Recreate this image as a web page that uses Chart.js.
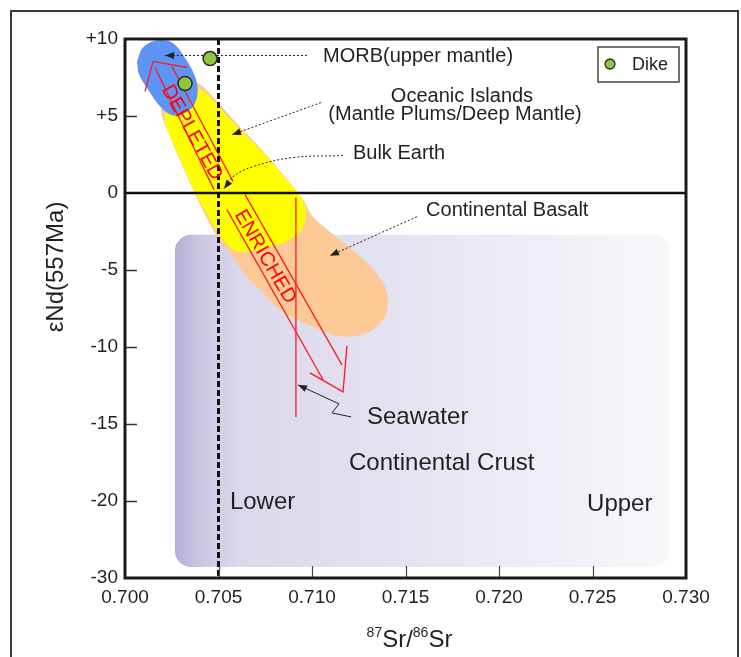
<!DOCTYPE html>
<html>
<head>
<meta charset="utf-8">
<script src="https://cdn.jsdelivr.net/npm/chart.js@4.4.0/dist/chart.umd.min.js"></script>
<style>
  html, body { margin: 0; padding: 0; background: #fff; }
  #wrap { width: 741px; height: 657px; position: relative; }
</style>
</head>
<body>
<div id="wrap"><canvas id="myChart"></canvas></div>
<script>
// --- data (x = 87Sr/86Sr, y = eNd) ---
const dikeLabel = 'Dike';
const dikeSr = [0.70455, 0.70321];
const dikeNd = [8.73, 7.11];

const xTickValues = [0.700, 0.705, 0.710, 0.715, 0.720, 0.725, 0.730];
const xTickLabels = ['0.700', '0.705', '0.710', '0.715', '0.720', '0.725', '0.730'];
const yTickValues = [10, 5, 0, -5, -10, -15, -20, -25];
const yTickLabels = ['+10', '+5', '0', '-5', '-10', '-15', '-20', '-30'];

// field outlines
const morbField = [[0.70064,8.54],[0.70096,9.45],[0.70166,9.90],[0.70251,9.77],[0.70326,8.67],[0.70380,7.37],
  [0.70385,6.20],[0.70342,5.35],[0.70262,5.03],[0.70193,5.55],[0.70123,6.72],[0.70075,7.69],[0.70064,8.54]];
const oibField = [[0.70230,5.74],[0.70321,6.52],[0.70401,6.72],[0.70481,5.87],[0.70578,4.57],[0.70668,3.47],
  [0.70759,2.36],[0.70856,0.99],[0.70947,-0.43],[0.70968,-1.41],[0.70936,-2.51],[0.70856,-3.16],[0.70733,-3.62],
  [0.70615,-3.81],[0.70551,-3.42],[0.70471,-2.06],[0.70401,-0.56],[0.70337,0.99],[0.70273,2.82],[0.70214,4.64],[0.70230,5.74]];
const basaltField = [[0.70214,6.07],[0.70294,7.04],[0.70374,7.24],[0.70444,6.59],[0.70588,4.64],[0.70765,2.36],
  [0.70952,-0.43],[0.71005,-1.54],[0.71150,-3.03],[0.71294,-4.53],[0.71380,-5.83],[0.71406,-6.93],[0.71390,-8.04],
  [0.71326,-8.88],[0.71241,-9.27],[0.71134,-9.27],[0.71043,-8.88],[0.70920,-8.23],[0.70829,-7.58],[0.70738,-6.48],
  [0.70652,-5.44],[0.70578,-4.20],[0.70497,-2.90],[0.70428,-1.41],[0.70364,0.22],[0.70299,1.97],[0.70241,3.66],
  [0.70193,5.29],[0.70214,6.07]];
const crustSr = [0.70267, 0.72909];
const crustNd = [-2.71, -24.28];

// reference lines
const bulkEarthSr = 0.705;
const chondriteNd = 0;

// red trend arrows
const depletedHead = [[0.70107,6.59],[0.70150,8.54],[0.70332,8.15]];
const depletedLeft = [[0.70160,8.15],[0.70476,0.22]];
const depletedRight = [[0.70251,8.21],[0.70578,0.74]];
const enrichedA = [[0.70642,-0.11],[0.71160,-11.16]];
const enrichedB = [[0.70545,-1.08],[0.71059,-12.13]];
const enrichedHead = [[0.70989,-11.68],[0.71166,-12.91],[0.71187,-9.92]];
const seawaterLine = [[0.70914,-0.30],[0.70914,-14.54]];

// pointer arrows (tail ... head)
const morbPointer = [[0.70973,8.93],[0.70214,8.93]];
const oibPointer = [[0.71048,5.87],[0.70572,3.79]];
const bulkPointer = [[0.71166,2.43],[0.70898,2.30],[0.70684,1.71],[0.70578,1.06],[0.70529,0.28]];
const basaltPointer = [[0.71561,-1.54],[0.71096,-4.07]];
const seawaterPointer = [[0.71209,-14.54],[0.71107,-14.28],[0.71144,-13.69],[0.70925,-12.46]];

// annotation texts
const labelTexts = ['MORB(upper mantle)', 'Oceanic Islands', '(Mantle Plums/Deep Mantle)', 'Bulk Earth',
  'Continental Basalt', 'Seawater', 'Continental Crust', 'Lower', 'Upper'];
const labelAt = [[0.71059,8.86],[0.71802,6.26],[0.71765,5.09],[0.71219,2.56],[0.71610,-1.15],
  [0.71294,-14.54],[0.71198,-17.53],[0.70561,-20.06],[0.72471,-20.19]];

const FONT = '"Liberation Sans", Arial, sans-serif';
const pts = arr => arr.map(p => ({x: p[0], y: p[1]}));

function field(data, color, order) {
  return { type: 'line', data: pts(data), backgroundColor: color, borderWidth: 0,
    borderColor: color, fill: 'shape', tension: 0.35, pointRadius: 0, order: order };
}
function redLine(data) {
  return { type: 'line', data: pts(data), borderColor: '#ff1a1a', borderWidth: 1.3,
    fill: false, tension: 0, pointRadius: 0, order: 6 };
}
function pointer(data, dash, tension) {
  return { type: 'line', data: pts(data), borderColor: '#222', borderWidth: 1,
    borderDash: dash, fill: false, tension: tension, pointRadius: 0, order: 5, arrow: true };
}

const datasets = [
  field(basaltField, '#fdc997', 12),
  field(oibField, '#ffff00', 11),
  field(morbField, '#5f93f5', 10),
  redLine(depletedHead), redLine(depletedLeft), redLine(depletedRight),
  redLine(enrichedA), redLine(enrichedB), redLine(enrichedHead), redLine(seawaterLine),
  pointer(morbPointer, [2, 2], 0),
  pointer(oibPointer, [2, 2], 0),
  pointer(bulkPointer, [2, 2], 0.4),
  pointer(basaltPointer, [2, 2], 0),
  pointer(seawaterPointer, [], 0),
  { type: 'line', data: [{x: bulkEarthSr, y: 10}, {x: bulkEarthSr, y: -25}], borderColor: '#111',
    borderWidth: 3, borderDash: [6, 3], pointRadius: 0, fill: false, order: 4 },
  { type: 'line', data: [{x: 0.700, y: chondriteNd}, {x: 0.730, y: chondriteNd}], borderColor: '#111',
    borderWidth: 2.5, pointRadius: 0, fill: false, order: 3 },
  { type: 'scatter', label: dikeLabel, data: dikeSr.map((v, i) => ({x: v, y: dikeNd[i]})),
    pointRadius: 7, pointBackgroundColor: '#8dc63f', pointBorderColor: '#2a2a2a', pointBorderWidth: 1.5, order: 1 }
];

const decor = {
  id: 'decor',
  beforeDatasetsDraw(chart) {
    const {ctx, scales: {x, y}} = chart;
    const x0 = x.getPixelForValue(crustSr[0]), x1 = x.getPixelForValue(crustSr[1]);
    const y0 = y.getPixelForValue(crustNd[0]), y1 = y.getPixelForValue(crustNd[1]);
    const g = ctx.createLinearGradient(x0, 0, x1, 0);
    g.addColorStop(0, '#b3aed4');
    g.addColorStop(0.06, '#cdc9e4');
    g.addColorStop(0.13, '#dbd8eb');
    g.addColorStop(0.4, '#e3e0f0');
    g.addColorStop(1, '#f8f8fb');
    ctx.save();
    ctx.fillStyle = g;
    ctx.beginPath();
    ctx.roundRect(x0, y0, x1 - x0, y1 - y0, 16);
    ctx.fill();
    ctx.restore();
  },
  afterDatasetsDraw(chart) {
    const {ctx, scales: {x, y}} = chart;
    ctx.save();
    // arrow heads on pointers
    chart.data.datasets.forEach((ds, i) => {
      if (!ds.arrow) return;
      const pts = chart.getDatasetMeta(i).data;
      const a = pts[pts.length - 2], b = pts[pts.length - 1];
      const ang = Math.atan2(b.y - a.y, b.x - a.x);
      ctx.save();
      ctx.translate(b.x, b.y);
      ctx.rotate(ang);
      ctx.fillStyle = '#222';
      ctx.beginPath();
      ctx.moveTo(0, 0);
      ctx.lineTo(-9, -3.5);
      ctx.lineTo(-9, 3.5);
      ctx.closePath();
      ctx.fill();
      ctx.restore();
    });
    // rotated trend words
    ctx.fillStyle = '#ff0000';
    ctx.font = '20px ' + FONT;
    ctx.textAlign = 'center';
    ctx.textBaseline = 'middle';
    [['DEPLETED', 0.70358, 3.92, 61], ['ENRICHED', 0.70749, -4.14, 60]].forEach(t => {
      ctx.save();
      ctx.translate(x.getPixelForValue(t[1]), y.getPixelForValue(t[2]));
      ctx.rotate(t[3] * Math.PI / 180);
      ctx.fillText(t[0], 0, 0);
      ctx.restore();
    });
    // annotation labels
    ctx.fillStyle = '#231f20';
    labelTexts.forEach((txt, i) => {
      const big = i >= 5;
      const centred = i === 1 || i === 2;
      ctx.font = (big ? '24px ' : '20px ') + FONT;
      ctx.textAlign = centred ? 'center' : 'left';
      ctx.fillText(txt, x.getPixelForValue(labelAt[i][0]), y.getPixelForValue(labelAt[i][1]));
    });
    ctx.restore();
  },
  afterDraw(chart) {
    const {ctx, chartArea: a, scales: {x, y}} = chart;
    ctx.save();
    // inner tick marks
    ctx.strokeStyle = '#333';
    ctx.lineWidth = 1.5;
    yTickValues.filter(v => v < 10 && v > -25 && v !== 0).forEach(v => {
      const py = Math.round(y.getPixelForValue(v)) + 0.5;
      ctx.beginPath(); ctx.moveTo(a.left, py); ctx.lineTo(a.left + 12, py); ctx.stroke();
    });
    ctx.lineWidth = 1.2;
    ctx.strokeStyle = '#444';
    xTickValues.filter(v => v > 0.7 && v < 0.73).forEach(v => {
      const px = Math.round(x.getPixelForValue(v)) + 0.5;
      ctx.beginPath(); ctx.moveTo(px, a.bottom); ctx.lineTo(px, a.bottom - 12); ctx.stroke();
    });
    // plot frame
    ctx.strokeStyle = '#1a1a1a';
    ctx.lineWidth = 3;
    ctx.strokeRect(a.left, a.top, a.right - a.left, a.bottom - a.top);
    // outer frame
    ctx.strokeStyle = '#3a3a3a';
    ctx.lineWidth = 2;
    ctx.strokeRect(11, 11, 727, 680);
    // axis titles
    ctx.fillStyle = '#231f20';
    ctx.save();
    ctx.translate(a.left - 69, 267);
    ctx.rotate(-Math.PI / 2);
    ctx.font = '24px ' + FONT;
    ctx.textAlign = 'center';
    ctx.textBaseline = 'middle';
    ctx.fillText('\u03b5Nd(557Ma)', 0, 0);
    ctx.restore();
    const parts = [['87', 14, -10], ['Sr/', 24, 0], ['86', 14, -10], ['Sr', 24, 0]];
    let total = 0;
    parts.forEach(p => { ctx.font = p[1] + 'px ' + FONT; total += ctx.measureText(p[0]).width; });
    let cx = (a.left + a.right) / 2 + 4 - total / 2;
    const base = a.bottom + 69;
    ctx.textAlign = 'left';
    ctx.textBaseline = 'alphabetic';
    parts.forEach(p => {
      ctx.font = p[1] + 'px ' + FONT;
      ctx.fillText(p[0], cx, base + p[2]);
      cx += ctx.measureText(p[0]).width;
    });
    // legend box
    const bx = a.right - 88, by = a.top + 8;
    ctx.strokeStyle = '#444';
    ctx.lineWidth = 1.5;
    ctx.strokeRect(bx, by, 81, 35);
    const dk = chart.data.datasets[chart.data.datasets.length - 1];
    ctx.fillStyle = dk.pointBackgroundColor;
    ctx.strokeStyle = dk.pointBorderColor;
    ctx.lineWidth = 1.3;
    ctx.beginPath(); ctx.arc(bx + 12, by + 17, 5, 0, Math.PI * 2); ctx.fill(); ctx.stroke();
    ctx.fillStyle = '#231f20';
    ctx.font = '18px ' + FONT;
    ctx.textBaseline = 'middle';
    ctx.fillText(dk.label, bx + 34, by + 18);
    ctx.restore();
  }
};

new Chart(document.getElementById('myChart').getContext('2d'), {
  type: 'scatter',
  data: { datasets: datasets },
  options: {
    responsive: true,
    maintainAspectRatio: false,
    animation: false,
    layout: { padding: { left: 0, top: 39, right: 55, bottom: 0 } },
    plugins: { legend: { display: false }, tooltip: { enabled: false } },
    scales: {
      x: {
        type: 'linear', min: 0.700, max: 0.730,
        afterBuildTicks: s => { s.ticks = xTickValues.map(v => ({value: v})); },
        afterFit: s => { s.height = 79; },
        grid: { display: false, drawTicks: false },
        border: { display: false },
        ticks: { padding: 8, color: '#231f20', font: { family: FONT, size: 19 }, maxRotation: 0,
          callback: v => xTickLabels[xTickValues.indexOf(v)] }
      },
      y: {
        type: 'linear', min: -25, max: 10,
        afterBuildTicks: s => { s.ticks = yTickValues.map(v => ({value: v})); },
        afterFit: s => { s.width = 125; },
        grid: { display: false, drawTicks: false },
        border: { display: false },
        ticks: { padding: 7, color: '#231f20', font: { family: FONT, size: 19 },
          callback: v => yTickLabels[yTickValues.indexOf(v)] }
      }
    }
  },
  plugins: [decor]
});
</script>
</body>
</html>
